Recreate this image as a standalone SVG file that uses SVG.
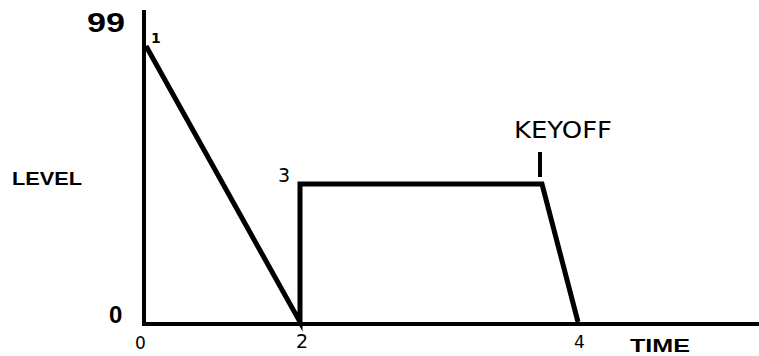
<svg xmlns="http://www.w3.org/2000/svg" width="759" height="356" viewBox="0 0 759 356">
<style>
.ax{stroke:#000;stroke-width:4;fill:none;stroke-linejoin:miter}
.env{stroke:#000;stroke-width:5;fill:none;stroke-linejoin:miter}
.lab{font-family:"Liberation Sans",Arial,sans-serif;font-weight:bold;fill:#000}
.hand{font-family:"DejaVu Sans",sans-serif;fill:#000}
</style>
<rect width="759" height="356" fill="#fff"/>
<g id="axes">
<path class="ax" d="M144,10 V324 H759"/>
</g>
<g id="connectors">
<path class="env" d="M146,46 L300,322 V184 H542 L578,322"/>
<path class="ax" d="M540,152 V177" stroke-width="3"/>
</g>
<g id="labels">
<text class="lab" x="87" y="32" font-size="27" textLength="38" lengthAdjust="spacingAndGlyphs">99</text>
<text class="lab" x="12" y="185" font-size="19" textLength="70" lengthAdjust="spacingAndGlyphs">LEVEL</text>
<text class="lab" x="109" y="323" font-size="24">0</text>
<text class="lab" x="630" y="352" font-size="18" textLength="60" lengthAdjust="spacingAndGlyphs">TIME</text>
<text class="hand" x="151" y="43" font-size="14" font-weight="bold">1</text>
<text class="hand" x="278" y="182" font-size="19">3</text>
<text class="hand" x="135" y="349" font-size="17">0</text>
<text class="hand" x="296" y="348" font-size="19">2</text>
<text class="hand" x="574" y="348" font-size="17">4</text>
<text class="hand" x="514" y="138" font-size="23" textLength="98" lengthAdjust="spacingAndGlyphs">KEYOFF</text>
</g>
</svg>
